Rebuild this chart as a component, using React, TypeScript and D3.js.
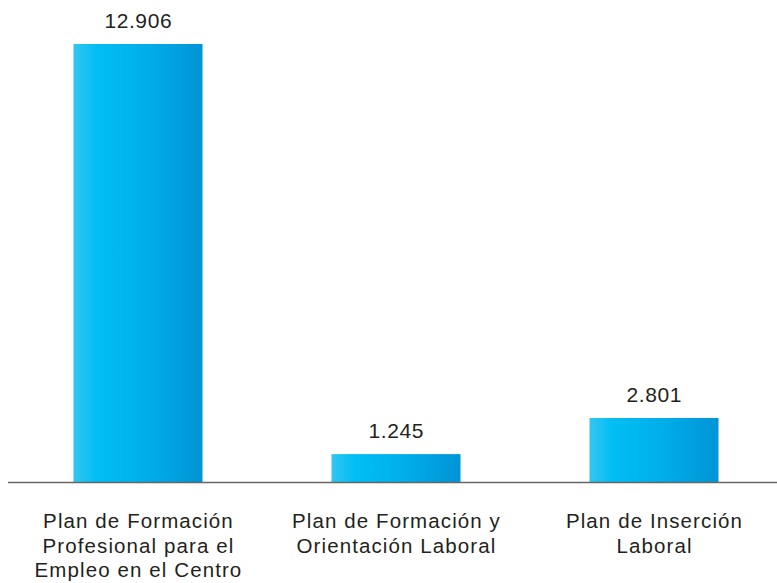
import React, { useRef, useEffect } from 'react';
import * as d3 from 'd3';

const categories = [
  'Plan de Formación Profesional para el Empleo en el Centro',
  'Plan de Formación y Orientación Laboral',
  'Plan de Inserción Laboral',
];
const values = [12906, 1245, 2801];
const valueLabels = ['12.906', '1.245', '2.801'];
const categoryLines = [
  ['Plan de Formación', 'Profesional para el', 'Empleo en el Centro'],
  ['Plan de Formación y', 'Orientación Laboral'],
  ['Plan de Inserción', 'Laboral'],
];

const App = () => {
  const d3Container = useRef(null);

  useEffect(() => {
    if (!d3Container.current) return;
    const svg = d3.select(d3Container.current);
    svg.selectAll('*').remove();

    const width = 777;
    const height = 583;
    const baseline = 483;
    svg.attr('width', width).attr('height', height);

    // degradado horizontal de las barras
    const grad = svg
      .append('defs')
      .append('linearGradient')
      .attr('id', 'barGrad')
      .attr('x1', '0%')
      .attr('x2', '100%')
      .attr('y1', '0%')
      .attr('y2', '0%');
    grad.append('stop').attr('offset', '0%').attr('stop-color', '#33c6f1');
    grad.append('stop').attr('offset', '18%').attr('stop-color', '#00bef3');
    grad.append('stop').attr('offset', '55%').attr('stop-color', '#00afea');
    grad.append('stop').attr('offset', '100%').attr('stop-color', '#0094d6');

    const xScale = d3
      .scaleBand()
      .domain(categories)
      .range([9, 783])
      .paddingInner(0.5)
      .paddingOuter(0.25);

    // escala no proporcional como en el original
    const yScale = d3
      .scaleLinear()
      .domain([0, 2801, 12906])
      .range([baseline, 418, 44]);

    const data = categories.map((c, i) => ({
      name: c,
      value: values[i],
      label: valueLabels[i],
      lines: categoryLines[i],
    }));

    const font = 'Liberation Sans, Arial, Helvetica, sans-serif';

    svg
      .append('g')
      .selectAll('rect')
      .data(data)
      .enter()
      .append('rect')
      .attr('x', (d) => xScale(d.name) as number)
      .attr('y', (d) => yScale(d.value))
      .attr('width', xScale.bandwidth())
      .attr('height', (d) => baseline - yScale(d.value))
      .attr('fill', 'url(#barGrad)');

    // línea base
    svg
      .append('line')
      .attr('x1', 8)
      .attr('x2', width)
      .attr('y1', baseline - 0.5)
      .attr('y2', baseline - 0.5)
      .attr('stroke', '#666')
      .attr('stroke-width', 1.6);

    // valores
    svg
      .append('g')
      .selectAll('text')
      .data(data)
      .enter()
      .append('text')
      .text((d) => d.label)
      .attr('x', (d) => (xScale(d.name) as number) + xScale.bandwidth() / 2 + 0.3)
      .attr('y', (d) => yScale(d.value) - 16)
      .attr('text-anchor', 'middle')
      .attr('font-size', '21px')
      .attr('letter-spacing', '0.6px')
      .attr('fill', '#231f20')
      .style('font-family', font);

    // etiquetas de categoría
    const cat = svg
      .append('g')
      .selectAll('text')
      .data(data)
      .enter()
      .append('text')
      .attr('text-anchor', 'middle')
      .attr('font-size', '20.5px')
      .attr('letter-spacing', '1.1px')
      .attr('fill', '#231f20')
      .style('font-family', font);

    cat
      .selectAll('tspan')
      .data((d) => d.lines.map((l) => ({ l, x: (xScale(d.name) as number) + xScale.bandwidth() / 2 + 0.5 })))
      .enter()
      .append('tspan')
      .attr('x', (t) => t.x)
      .attr('y', (_t, i) => 528 + i * 24.5)
      .text((t) => t.l);
  }, []);

  return (
    <svg
      ref={d3Container}
      style={{ position: 'absolute', left: 0, top: 0, background: '#fff' }}
    />
  );
};

export default App;
